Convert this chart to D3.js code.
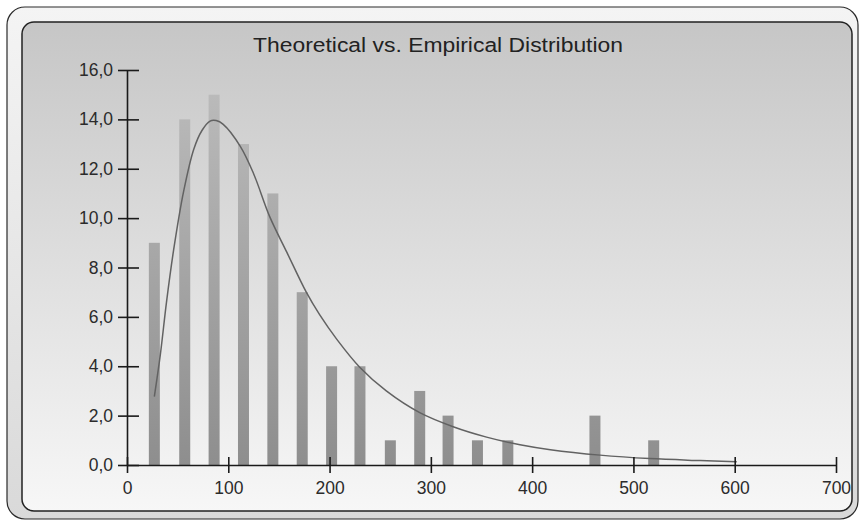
<!DOCTYPE html>
<html>
<head>
<meta charset="utf-8">
<script src="https://cdn.jsdelivr.net/npm/d3@7"></script>
<style>
  html, body { margin: 0; padding: 0; background: #fff; }
  svg { display: block; }
</style>
</head>
<body>
<svg id="chart" width="860" height="521"></svg>
<script>
// empirical histogram: bin centres and counts
const binCenters = [27, 57, 86, 115, 144, 173, 202, 230, 260, 289, 317, 346, 376, 462, 520];
const counts = [9, 14, 15, 13, 11, 7, 4, 4, 1, 3, 2, 1, 1, 2, 1];

// theoretical density curve
const curveX = [27, 33, 39, 46, 56, 66, 74, 82, 88, 95, 112, 125, 141, 158, 177, 190, 207, 230, 256, 289, 322, 355, 388, 418, 467, 516, 566, 602];
const curveY = [2.77, 4.5, 6.6, 8.7, 11.1, 12.8, 13.55, 13.93, 13.95, 13.8, 12.9, 11.8, 10.05, 8.6, 7.0, 6.1, 5.1, 3.95, 3.0, 2.12, 1.55, 1.13, 0.82, 0.62, 0.4, 0.26, 0.18, 0.13];

const xTicks = [0, 100, 200, 300, 400, 500, 600, 700];
const yTicks = [0, 2, 4, 6, 8, 10, 12, 14, 16];
const title = 'Theoretical vs. Empirical Distribution';

const width = 860;
const height = 521;
const margin = { top: 70, right: 24, bottom: 56, left: 127 };
const innerWidth = width - margin.left - margin.right;
const innerHeight = height - margin.top - margin.bottom;

const svg = d3.select('#chart');
const defs = svg.append('defs');

const frameGrad = defs.append('linearGradient')
  .attr('id', 'frameGrad').attr('x1', 0).attr('y1', 0).attr('x2', 0).attr('y2', 1);
frameGrad.append('stop').attr('offset', '0%').attr('stop-color', '#f4f4f4');
frameGrad.append('stop').attr('offset', '100%').attr('stop-color', '#d9d9d9');

const panelGrad = defs.append('linearGradient')
  .attr('id', 'panelGrad').attr('x1', 0).attr('y1', 0).attr('x2', 0).attr('y2', 1);
panelGrad.append('stop').attr('offset', '0%').attr('stop-color', '#c6c6c6');
panelGrad.append('stop').attr('offset', '100%').attr('stop-color', '#f7f7f7');

const barGrad = defs.append('linearGradient')
  .attr('id', 'barGrad')
  .attr('gradientUnits', 'userSpaceOnUse')
  .attr('x1', 0).attr('y1', 0).attr('x2', 0).attr('y2', innerHeight);
barGrad.append('stop').attr('offset', '0%').attr('stop-color', '#bdbdbd');
barGrad.append('stop').attr('offset', '100%').attr('stop-color', '#8e8e8e');

// outer bevel frame and inner panel
svg.append('rect')
  .attr('x', 7).attr('y', 7).attr('width', 851).attr('height', 512)
  .attr('rx', 18)
  .attr('fill', 'url(#frameGrad)')
  .attr('stroke', '#2a2a2a').attr('stroke-width', 1.2);

svg.append('rect')
  .attr('x', 22).attr('y', 22).attr('width', 830).attr('height', 489)
  .attr('rx', 12)
  .attr('fill', 'url(#panelGrad)')
  .attr('stroke', '#222').attr('stroke-width', 1.5);

svg.append('text')
  .attr('x', 438)
  .attr('y', 52)
  .attr('text-anchor', 'middle')
  .attr('font-family', 'Liberation Sans, Arial, sans-serif')
  .attr('font-size', 20)
  .attr('textLength', 370)
  .attr('lengthAdjust', 'spacingAndGlyphs')
  .attr('fill', '#222')
  .text(title);

const x = d3.scaleLinear().domain([0, 700]).range([0, innerWidth]);
const y = d3.scaleLinear().domain([0, 16]).range([innerHeight, 0]);

const root = svg.append('g')
  .attr('transform', `translate(${margin.left}, ${margin.top})`);

// bars
const barWidth = 11;
root.selectAll('rect.bar')
  .data(binCenters)
  .enter()
  .append('rect')
  .attr('class', 'bar')
  .attr('x', (d) => x(d) - barWidth / 2)
  .attr('y', (d, i) => y(counts[i]))
  .attr('width', barWidth)
  .attr('height', (d, i) => innerHeight - y(counts[i]))
  .attr('fill', 'url(#barGrad)');

// theoretical curve
const line = d3.line()
  .x((d) => x(d))
  .y((d, i) => y(curveY[i]))
  .curve(d3.curveCatmullRom.alpha(0.5));

root.append('path')
  .datum(curveX)
  .attr('fill', 'none')
  .attr('stroke', '#626262')
  .attr('stroke-width', 1.5)
  .attr('d', line);

const axisFont = (group) =>
  group.selectAll('text')
    .attr('font-family', 'Liberation Sans, Arial, sans-serif')
    .attr('font-size', 17.5)
    .attr('fill', '#2b2b2b');

root.append('g')
  .call(
    d3.axisLeft(y)
      .tickValues(yTicks)
      .tickSizeInner(9)
      .tickSizeOuter(0)
      .tickPadding(5)
      .tickFormat((v) => d3.format('.1f')(v).replace('.', ',')),
  )
  .call(axisFont)
  .call((group) => group.selectAll('line').attr('x1', 12))
  .call((group) => group.selectAll('line, path').attr('stroke', '#1a1a1a').attr('stroke-width', 1.6));

root.append('g')
  .attr('transform', `translate(0, ${innerHeight})`)
  .call(
    d3.axisBottom(x)
      .tickValues(xTicks)
      .tickSizeInner(8)
      .tickSizeOuter(0)
      .tickPadding(9),
  )
  .call(axisFont)
  .call((group) => group.selectAll('line').attr('y1', -8))
  .call((group) => group.selectAll('line, path').attr('stroke', '#1a1a1a').attr('stroke-width', 1.6));
</script>
</body>
</html>
